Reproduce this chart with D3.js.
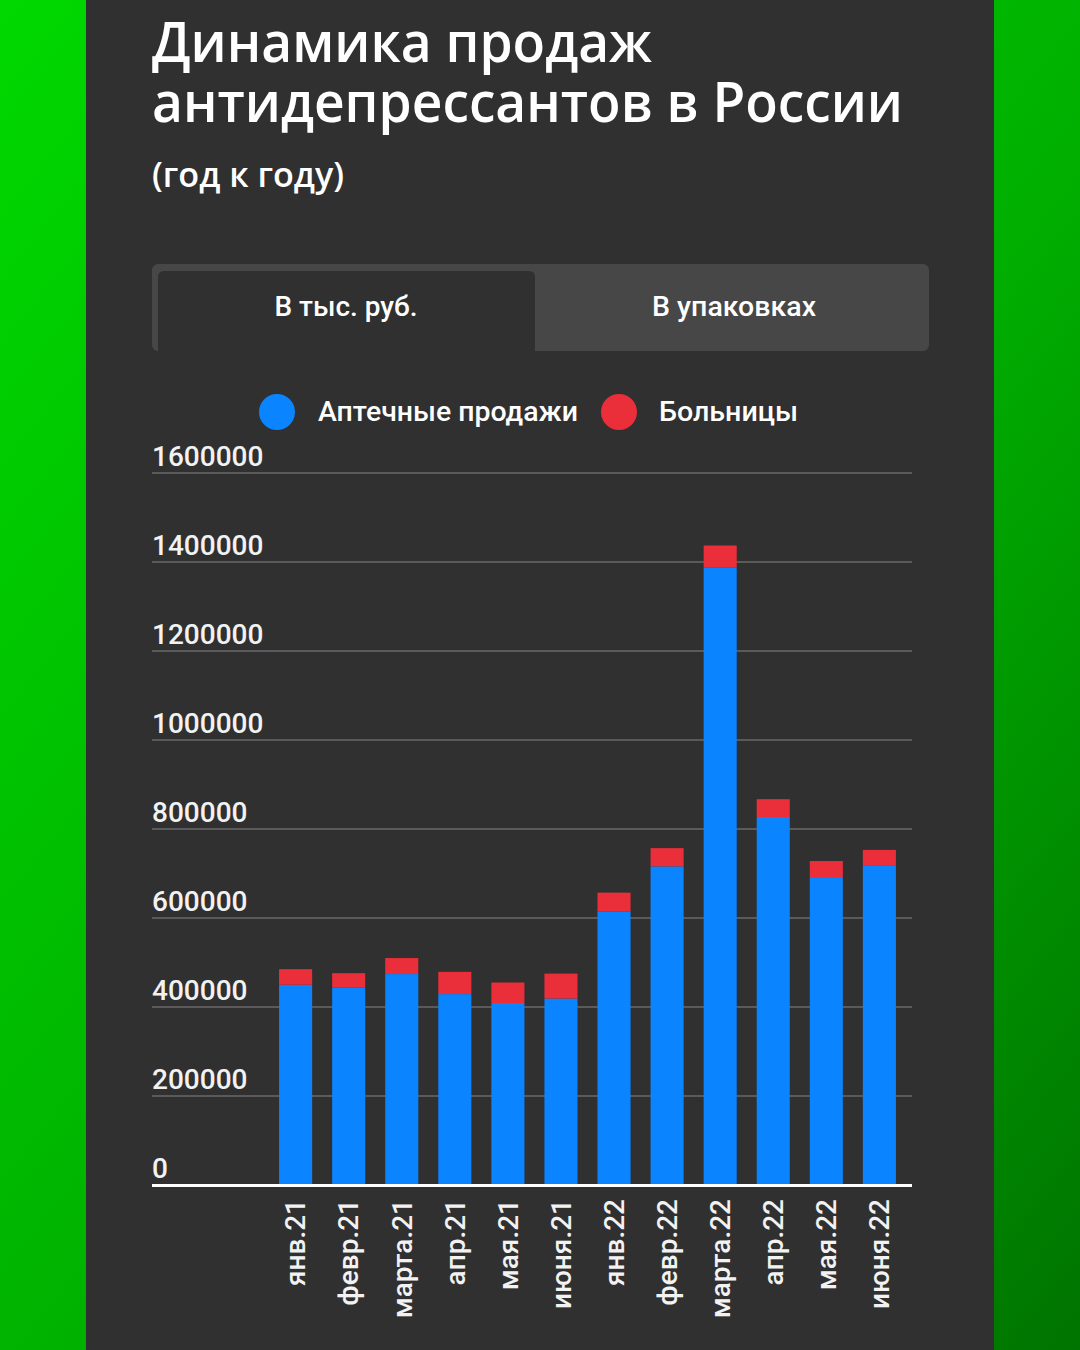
<!DOCTYPE html>
<html>
<head>
<meta charset="utf-8">
<script src="https://cdn.jsdelivr.net/npm/d3@7"></script>
<style>
  html, body { margin: 0; padding: 0; width: 1080px; height: 1350px; overflow: hidden; }
  svg { display: block; }
</style>
</head>
<body>
<svg id="chart" width="1080" height="1350"></svg>
<script>
// ---- Data ----
const months = ["янв.21", "февр.21", "марта.21", "апр.21", "мая.21", "июня.21",
                "янв.22", "февр.22", "марта.22", "апр.22", "мая.22", "июня.22"];
const pharmacy = [450000, 444000, 474000, 429000, 409000, 419000, 615000, 716000, 1387000, 827000, 692000, 717000];
const hospitals = [35000, 32000, 36000, 50000, 46000, 56000, 42000, 41000, 50000, 40000, 36000, 36000];
const yTicks = [0, 200000, 400000, 600000, 800000, 1000000, 1200000, 1400000, 1600000];
const seriesNames = ["Аптечные продажи", "Больницы"];
const seriesColors = ["#0a84ff", "#ea2f3a"];
const titleLines = ["Динамика продаж", "антидепрессантов в России"];
const subtitle = "(год к году)";
const tabs = ["В тыс. руб.", "В упаковках"];

const svg = d3.select("#chart");

// ---- Background ----
const defs = svg.append("defs");
const g1 = defs.append("linearGradient").attr("id", "bg").attr("x1", "0").attr("y1", "0").attr("x2", "1").attr("y2", "1");
g1.append("stop").attr("offset", "0%").attr("stop-color", "#00d800");
g1.append("stop").attr("offset", "55%").attr("stop-color", "#00b000");
g1.append("stop").attr("offset", "100%").attr("stop-color", "#007400");
svg.append("rect").attr("width", 1080).attr("height", 1350).attr("fill", "url(#bg)");
svg.append("rect").attr("x", 86).attr("y", 0).attr("width", 908).attr("height", 1350).attr("fill", "#303030");

// ---- Title ----
const titleWidths = [500, 751];
const titleY = [62, 122];
titleLines.forEach((t, i) => {
  svg.append("text").attr("x", 152).attr("y", titleY[i])
    .attr("font-family", "'Open Sans', sans-serif").attr("font-weight", 600)
    .attr("font-size", 56).attr("fill", "#ffffff")
    .attr("textLength", titleWidths[i]).attr("lengthAdjust", "spacingAndGlyphs")
    .text(t);
});
svg.append("text").attr("x", 152).attr("y", 187)
  .attr("font-family", "'Open Sans', sans-serif").attr("font-weight", 600)
  .attr("font-size", 34).attr("fill", "#ffffff")
  .attr("textLength", 192).attr("lengthAdjust", "spacingAndGlyphs")
  .text(subtitle);

// ---- Tabs ----
svg.append("rect").attr("x", 152).attr("y", 264).attr("width", 777).attr("height", 87)
  .attr("rx", 6).attr("fill", "#474747");
svg.append("path")
  .attr("d", "M158,351 V277 Q158,271 164,271 H529 Q535,271 535,277 V351 Z")
  .attr("fill", "#303030");
const tabX = [346, 734];
const tabW = [143, 164];
tabs.forEach((t, i) => {
  svg.append("text").attr("x", tabX[i]).attr("y", 316).attr("text-anchor", "middle")
    .attr("font-family", "Roboto, sans-serif").attr("font-weight", 500)
    .attr("font-size", 27).attr("fill", "#ffffff")
    .attr("textLength", tabW[i]).attr("lengthAdjust", "spacingAndGlyphs")
    .text(t);
});

// ---- Legend ----
const legendCx = [277, 619];
const legendTx = [318, 659];
const legendW = [260, 139];
seriesNames.forEach((n, i) => {
  svg.append("circle").attr("cx", legendCx[i]).attr("cy", 412).attr("r", 18).attr("fill", seriesColors[i]);
  svg.append("text").attr("x", legendTx[i]).attr("y", 421)
    .attr("font-family", "Roboto, sans-serif").attr("font-weight", 500)
    .attr("font-size", 27).attr("fill", "#ffffff")
    .attr("textLength", legendW[i]).attr("lengthAdjust", "spacingAndGlyphs")
    .text(n);
});

// ---- Scales ----
const y = d3.scaleLinear().domain([0, 1600000]).range([1185, 473]);
const x = d3.scaleBand().domain(months).range([269, 906]).paddingInner(0.377).paddingOuter(0.19);

// ---- Grid + y labels ----
const grid = svg.append("g");
yTicks.filter(v => v > 0).forEach(v => {
  grid.append("line").attr("x1", 152).attr("x2", 912)
    .attr("y1", y(v)).attr("y2", y(v))
    .attr("stroke", "#5a5a5a").attr("stroke-width", 2);
});
yTicks.forEach(v => {
  grid.append("text").attr("x", 152).attr("y", y(v) - 7)
    .attr("font-family", "Roboto, sans-serif").attr("font-weight", 500)
    .attr("font-size", 28).attr("fill", "#f2f2f2")
    .text(String(v));
});

// ---- Bars ----
const stackData = months.map((m, i) => ({ month: m, pharmacy: pharmacy[i], hospitals: hospitals[i] }));
const stack = d3.stack().keys(["pharmacy", "hospitals"])(stackData);
svg.append("g").selectAll("g").data(stack).join("g")
  .attr("fill", (d, i) => seriesColors[i])
  .selectAll("rect").data(d => d).join("rect")
  .attr("x", d => x(d.data.month))
  .attr("width", x.bandwidth())
  .attr("y", d => y(d[1]))
  .attr("height", d => y(d[0]) - y(d[1]));

// ---- Baseline ----
svg.append("line").attr("x1", 152).attr("x2", 912).attr("y1", y(0) + 0.5).attr("y2", y(0) + 0.5)
  .attr("stroke", "#ffffff").attr("stroke-width", 3);

// ---- X labels ----
months.forEach(m => {
  const cx = x(m) + x.bandwidth() / 2;
  svg.append("text")
    .attr("transform", `translate(${cx},1199) rotate(-90)`)
    .attr("text-anchor", "end").attr("dy", "0.35em")
    .attr("font-family", "Roboto, sans-serif").attr("font-weight", 500)
    .attr("font-size", 28).attr("fill", "#f2f2f2")
    .text(m);
});
</script>
</body>
</html>
